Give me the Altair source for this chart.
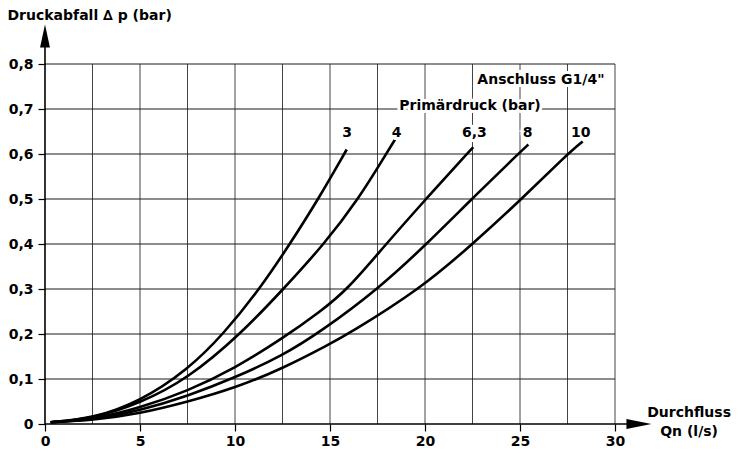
import altair as alt
import pandas as pd

# ---- data ----
SERIES = ["3", "4", "6,3", "8", "10"]

Q_3 = [0.3, 2.5, 5.0, 7.5, 9.4, 11.3, 12.89, 14.39, 15.88]
DP_3 = [0.004, 0.012, 0.050, 0.120, 0.200, 0.300, 0.400, 0.500, 0.610]

Q_4 = [0.3, 2.5, 5.0, 7.5, 10.3, 12.55, 14.7, 16.5, 17.95, 18.42]
DP_4 = [0.004, 0.012, 0.046, 0.100, 0.200, 0.300, 0.400, 0.500, 0.600, 0.632]

Q_63 = [0.3, 2.5, 5.0, 7.5, 10.0, 12.5, 14.5, 15.95, 17.95, 20.05, 22.2, 22.54]
DP_63 = [0.004, 0.010, 0.036, 0.073, 0.124, 0.190, 0.250, 0.300, 0.400, 0.500, 0.600, 0.615]

Q_8 = [0.3, 2.5, 5.0, 7.5, 10.0, 12.5, 14.47, 17.54, 20.09, 22.46, 24.9, 25.44]
DP_8 = [0.004, 0.009, 0.030, 0.062, 0.103, 0.152, 0.204, 0.300, 0.400, 0.500, 0.600, 0.621]

Q_10 = [0.3, 2.5, 5.0, 7.5, 10.0, 12.5, 15.0, 15.96, 19.75, 22.51, 25.09, 27.5, 28.3]
DP_10 = [0.004, 0.008, 0.023, 0.049, 0.080, 0.123, 0.178, 0.200, 0.300, 0.400, 0.500, 0.600, 0.628]

X_TICKS = [0, 5, 10, 15, 20, 25, 30]
Y_TICKS = [0, 0.1, 0.2, 0.3, 0.4, 0.5, 0.6, 0.7, 0.8]
X_GRID = [2.5, 5, 7.5, 10, 12.5, 15, 17.5, 20, 22.5, 25, 27.5, 30]
Y_GRID = [0.1, 0.2, 0.3, 0.4, 0.5, 0.6, 0.7, 0.8]

CURVE_LABELS = ["3", "4", "6,3", "8", "10"]
CURVE_LABEL_Q = [15.9, 18.5, 22.6, 25.4, 28.2]
CURVE_LABEL_DP = [0.647, 0.647, 0.647, 0.647, 0.647]

NOTE_TEXT = ['Anschluss G1/4"', "Primärdruck (bar)"]
NOTE_Q = [26.1, 22.37]
NOTE_DP = [0.764, 0.707]

X_TITLE = ["Durchfluss", "Qn (l/s)"]
X_TITLE_Q = [33.9, 33.9]
X_TITLE_DP = [0.0156, -0.0276]

Y_TITLE = "Druckabfall \u2206 p (bar)"

X_MIN, X_MAX = 0, 30
Y_MIN, Y_MAX = 0, 0.8
X_ARROW_END, Y_ARROW_END = 31.6, 0.87
X_ARROW_HEAD, Y_ARROW_HEAD = 31.26, 0.862

FONT = "DejaVu Sans"
FS = 14

# ---- tables ----
rows = []
for name, qs, dps in zip(SERIES, [Q_3, Q_4, Q_63, Q_8, Q_10], [DP_3, DP_4, DP_63, DP_8, DP_10]):
    for q, dp in zip(qs, dps):
        rows.append({"Primärdruck": name, "Q": q, "dp": dp})
curves_df = pd.DataFrame(rows)

vgrid_df = pd.DataFrame({"Q": X_GRID, "lo": Y_MIN, "hi": Y_MAX})
hgrid_df = pd.DataFrame({"dp": Y_GRID, "lo": X_MIN, "hi": X_MAX})
yline_df = pd.DataFrame({"Q": [0], "lo": [0], "hi": [Y_ARROW_END]})
xline_df = pd.DataFrame({"dp": [0], "lo": [0], "hi": [X_ARROW_END]})
uparrow_df = pd.DataFrame({"Q": [0], "dp": [Y_ARROW_HEAD]})
rarrow_df = pd.DataFrame({"Q": [X_ARROW_HEAD], "dp": [0]})
labels_df = pd.DataFrame({"t": CURVE_LABELS + NOTE_TEXT,
                          "Q": CURVE_LABEL_Q + NOTE_Q,
                          "dp": CURVE_LABEL_DP + NOTE_DP})
xtitle_df = pd.DataFrame({"t": X_TITLE, "Q": X_TITLE_Q, "dp": X_TITLE_DP})

xscale = alt.Scale(domain=[X_MIN, X_MAX], nice=False, zero=False)
yscale = alt.Scale(domain=[Y_MIN, Y_MAX], nice=False, zero=False)

vgrid = alt.Chart(vgrid_df).mark_rule(color="#444444", strokeWidth=1).encode(
    x=alt.X("Q:Q", scale=xscale),
    y=alt.Y("lo:Q", scale=yscale),
    y2="hi:Q",
)

hgrid = alt.Chart(hgrid_df).mark_rule(color="#1a1a1a", strokeWidth=1).encode(
    y=alt.Y("dp:Q", scale=yscale),
    x=alt.X("lo:Q", scale=xscale),
    x2="hi:Q",
)

curves = alt.Chart(curves_df).mark_line(
    color="black", strokeWidth=2.6, interpolate="basis"
).encode(
    x=alt.X("Q:Q", scale=xscale),
    y=alt.Y("dp:Q", scale=yscale),
    detail="Primärdruck:N",
)

yaxis_line = alt.Chart(yline_df).mark_rule(color="black", strokeWidth=1.6).encode(
    x="Q:Q", y="lo:Q", y2="hi:Q"
)
xaxis_line = alt.Chart(xline_df).mark_rule(color="black", strokeWidth=1.6).encode(
    y="dp:Q", x="lo:Q", x2="hi:Q"
)

up_arrow = alt.Chart(uparrow_df).mark_point(
    shape="M0,-1L0.43,1L-0.43,1Z", filled=True, size=529, color="black", opacity=1
).encode(x="Q:Q", y="dp:Q")

right_arrow = alt.Chart(rarrow_df).mark_point(
    shape="M1,0L-1,-0.4L-1,0.4Z", filled=True, size=625, color="black", opacity=1
).encode(x="Q:Q", y="dp:Q")

halo = alt.Chart(labels_df).mark_text(
    font=FONT, fontSize=FS, fontWeight="bold", color="white",
    stroke="white", strokeWidth=6, align="center", baseline="middle"
).encode(x="Q:Q", y="dp:Q", text="t:N")

texts = alt.Chart(labels_df).mark_text(
    font=FONT, fontSize=FS, fontWeight="bold", color="black",
    align="center", baseline="middle"
).encode(x="Q:Q", y="dp:Q", text="t:N")

xtitle = alt.Chart(xtitle_df).mark_text(
    font=FONT, fontSize=FS, fontWeight="bold", color="black",
    align="center", baseline="alphabetic"
).encode(x="Q:Q", y="dp:Q", text="t:N")

x_axis = alt.Axis(
    values=X_TICKS,
    grid=False,
    domain=False,
    ticks=True,
    tickSize=7,
    tickColor="black",
    tickWidth=1.2,
    labelFont=FONT,
    labelFontSize=FS,
    labelFontWeight="bold",
    labelColor="black",
    labelPadding=3,
    labelFlush=False,
    labelOverlap=False,
    title=None,
)
y_axis = alt.Axis(
    values=Y_TICKS,
    grid=False,
    domain=False,
    ticks=True,
    tickSize=7,
    tickColor="black",
    tickWidth=1.2,
    labelFont=FONT,
    labelFontSize=FS,
    labelFontWeight="bold",
    labelColor="black",
    labelPadding=5,
    labelOverlap=False,
    labelFlush=False,
    labelExpr="datum.value == 0 ? '0' : replace(format(datum.value, '.1f'), '.', ',')",
    title=Y_TITLE,
    titleFont=FONT,
    titleFontSize=FS,
    titleFontWeight="bold",
    titleColor="black",
    titleAngle=0,
    titleAlign="left",
    titleBaseline="alphabetic",
    titleX=-38,
    titleY=-44.5,
)

axes_layer = alt.Chart(curves_df).mark_line(opacity=0).encode(
    x=alt.X("Q:Q", scale=xscale, axis=x_axis),
    y=alt.Y("dp:Q", scale=yscale, axis=y_axis),
    detail="Primärdruck:N",
)

chart = alt.layer(
    axes_layer, vgrid, hgrid, curves, yaxis_line, xaxis_line, up_arrow, right_arrow,
    halo, texts, xtitle
).properties(
    width=570,
    height=360,
    padding={"left": 37, "top": 56, "right": 119, "bottom": 24},
    autosize=alt.AutoSizeParams(type="none"),
    background="white",
).configure_view(strokeWidth=0)

chart.save("out.html", embed_options={"renderer": "svg", "actions": False})
